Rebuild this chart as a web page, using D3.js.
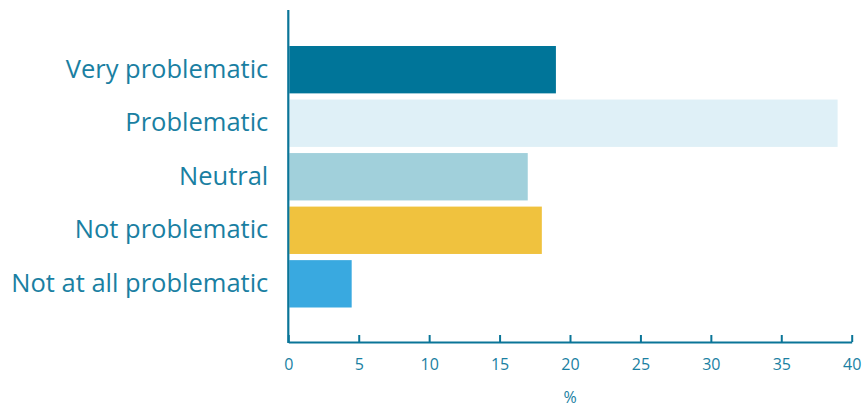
<!DOCTYPE html>
<html><head><meta charset="utf-8">
<script src="https://cdn.jsdelivr.net/npm/d3@7"></script>
<style>
html,body{margin:0;padding:0;background:#fff;}
svg{display:block;}
</style></head>
<body>
<script>
const categories = ["Very problematic","Problematic","Neutral","Not problematic","Not at all problematic"];
const values = [19, 39, 17, 18, 4.5];
const colors = ["#007599","#dff0f7","#a1d0db","#f0c23e","#39a9e0"];
const xTicks = [0,5,10,15,20,25,30,35,40];
const xLabel = "%";

const W = 864, H = 407;
const x0 = 288.3, x1 = 851.7, axisY = 342;
const svg = d3.select("body").append("svg").attr("width",W).attr("height",H);

const x = d3.scaleLinear().domain([0,40]).range([x0,x1]);
const y = d3.scaleBand().domain(categories).range([46,307.5]).paddingInner(0.115).paddingOuter(0);

const textColor = "#1a7fa2";
const axisColor = "#0a7598";
const font = "'Open Sans', sans-serif";

// bars
svg.selectAll("rect.bar").data(categories).join("rect")
  .attr("class","bar")
  .attr("x", x(0)+1)
  .attr("y", d=>y(d))
  .attr("width", (d,i)=>x(values[i])-x(0)-1)
  .attr("height", y.bandwidth())
  .attr("fill", (d,i)=>colors[i]);

// x axis
const xa = svg.append("g").attr("transform",`translate(0,${axisY})`)
  .call(d3.axisBottom(x).tickValues(xTicks).tickSize(-7).tickSizeOuter(0).tickPadding(17));
xa.select(".domain").attr("stroke",axisColor).attr("stroke-width",2.2);
xa.selectAll(".tick line").attr("stroke",axisColor).attr("stroke-width",2);
xa.selectAll(".tick text").attr("fill",textColor).attr("font-family",font).attr("font-size",16);

// y axis line
svg.append("line").attr("x1",x0).attr("x2",x0).attr("y1",10).attr("y2",axisY+1)
  .attr("stroke",axisColor).attr("stroke-width",2.2);

// category labels
const ya = svg.append("g").attr("transform",`translate(${x0},0)`)
  .call(d3.axisLeft(y).tickSize(0).tickPadding(20));
ya.select(".domain").remove();
ya.selectAll(".tick text").attr("fill",textColor).attr("font-family",font).attr("font-size",25.5);

// x label
svg.append("text").attr("x", x(20)).attr("y", 403).attr("text-anchor","middle")
  .attr("fill",textColor).attr("font-family",font).attr("font-size",16).text(xLabel);
</script>
</body></html>
